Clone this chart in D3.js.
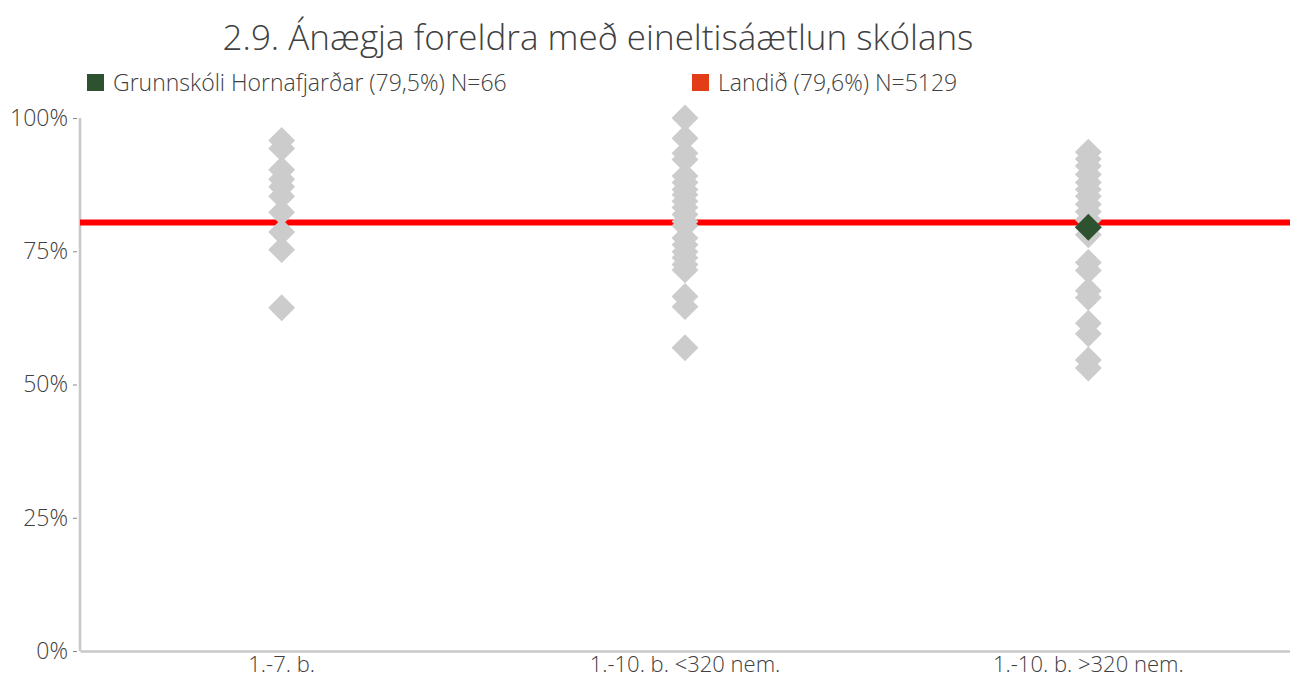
<!DOCTYPE html>
<html>
<head>
<meta charset="utf-8">
<script src="https://cdn.jsdelivr.net/npm/d3@7"></script>
<style>
  body { margin: 0; background: #fff; }
  text { font-family: "Open Sans", sans-serif; fill: #404040; font-weight: 300; }
</style>
</head>
<body>
<svg id="chart" width="1290" height="679"></svg>
<script>
// data
let categories = ['1.-7. b.', '1.-10. b. <320 nem.', '1.-10. b. >320 nem.'];
let smallSchools = [95.8, 94.3, 90.3, 88.5, 87.1, 85.3, 82.3, 78.6, 75.3, 64.4];
let midSchools = [100, 96.2, 93.4, 92.2, 89.1, 87.9, 86.6, 85.6, 84.4, 83.2, 81.9, 80.6,
  79.8, 77.5, 76.2, 74.9, 73.8, 72.5, 71.5, 66.5, 64.6, 56.9];
let bigSchools = [93.6, 92.3, 91.0, 89.4, 87.9, 86.6, 85.3, 83.8, 82.4, 80.9, 79.4, 78.1,
  72.9, 71.4, 67.6, 66.3, 61.5, 59.5, 54.6, 53.1];
let schoolValue = 79.5;
let schoolCategory = '1.-10. b. >320 nem.';
let nationalLine = 80.4;
let yTicks = [0, 25, 50, 75, 100];
let legendItems = [
  {label: 'Grunnskóli Hornafjarðar (79,5%) N=66', color: '#2e5230'},
  {label: 'Landið (79,6%) N=5129', color: '#e23d16'}
];
let title = '2.9. Ánægja foreldra með eineltisáætlun skólans';

let svg = d3.select('#chart');
let margin = {left: 80, right: 0, top: 118, bottom: 28};
let W = 1290, H = 679;

let x = d3.scaleBand().domain(categories).range([margin.left, W - margin.right]);
let y = d3.scaleLinear().domain([0, 100]).range([H - margin.bottom, margin.top]);

// title
svg.append('text')
  .attr('x', 598).attr('y', 50)
  .attr('text-anchor', 'middle')
  .style('font-size', '35px')
  .text(title);

// legend
let leg = svg.append('g').selectAll('g')
  .data(legendItems)
  .join('g')
  .attr('transform', (d, i) => `translate(${i == 0 ? 87 : 692},74)`);
leg.append('rect').attr('width', 17).attr('height', 17).style('fill', d => d.color);
leg.append('text').attr('x', 26).attr('y', 17).style('font-size', '23px').text(d => d.label);

// axes
let yAxis = svg.append('g')
  .attr('transform', `translate(${margin.left},0)`)
  .call(d3.axisLeft(y).tickValues(yTicks).tickSize(5).tickFormat(d => d + '%'));
yAxis.select('.domain').attr('stroke', '#c8c8c8').attr('stroke-width', 2.5)
  .attr('d', `M0,${y(100)}V${y(0)}`);
yAxis.selectAll('.tick line').attr('stroke', '#888').attr('x1', -7).attr('x2', -3);
yAxis.selectAll('.tick text').attr('x', -12)
  .style('font-size', '23px').style('font-family', '"Open Sans", sans-serif')
  .style('font-weight', 300).attr('fill', '#404040');

let xAxis = svg.append('g')
  .attr('transform', `translate(0,${y(0)})`)
  .call(d3.axisBottom(x).tickSize(0));
xAxis.select('.domain').attr('stroke', '#c8c8c8').attr('stroke-width', 2.5);
xAxis.selectAll('.tick text').attr('y', 21).attr('dy', 0)
  .style('font-size', '22px').style('font-family', '"Open Sans", sans-serif')
  .style('font-weight', 300).attr('fill', '#404040');

// national line
svg.append('line')
  .attr('x1', margin.left).attr('x2', W)
  .attr('y1', y(nationalLine)).attr('y2', y(nationalLine))
  .style('stroke', '#ff0000').style('stroke-width', 6);

// grey diamonds
let points = [];
[smallSchools, midSchools, bigSchools].forEach((vals, i) => {
  vals.forEach(v => points.push({cat: categories[i], v: v}));
});

let diamond = d3.symbol().type(d3.symbolSquare).size(19 * 19);
let cx = d => x(d.cat) + x.bandwidth() / 2;

svg.append('g').selectAll('.pt')
  .data(points)
  .join('path')
  .attr('class', 'pt')
  .attr('d', diamond)
  .attr('transform', d => `translate(${cx(d)},${y(d.v)}) rotate(45)`)
  .style('fill', '#cccccc');

svg.append('path')
  .datum({cat: schoolCategory, v: schoolValue})
  .attr('d', diamond)
  .attr('transform', d => `translate(${cx(d)},${y(d.v)}) rotate(45)`)
  .style('fill', '#2e5230');
</script>
</body>
</html>
